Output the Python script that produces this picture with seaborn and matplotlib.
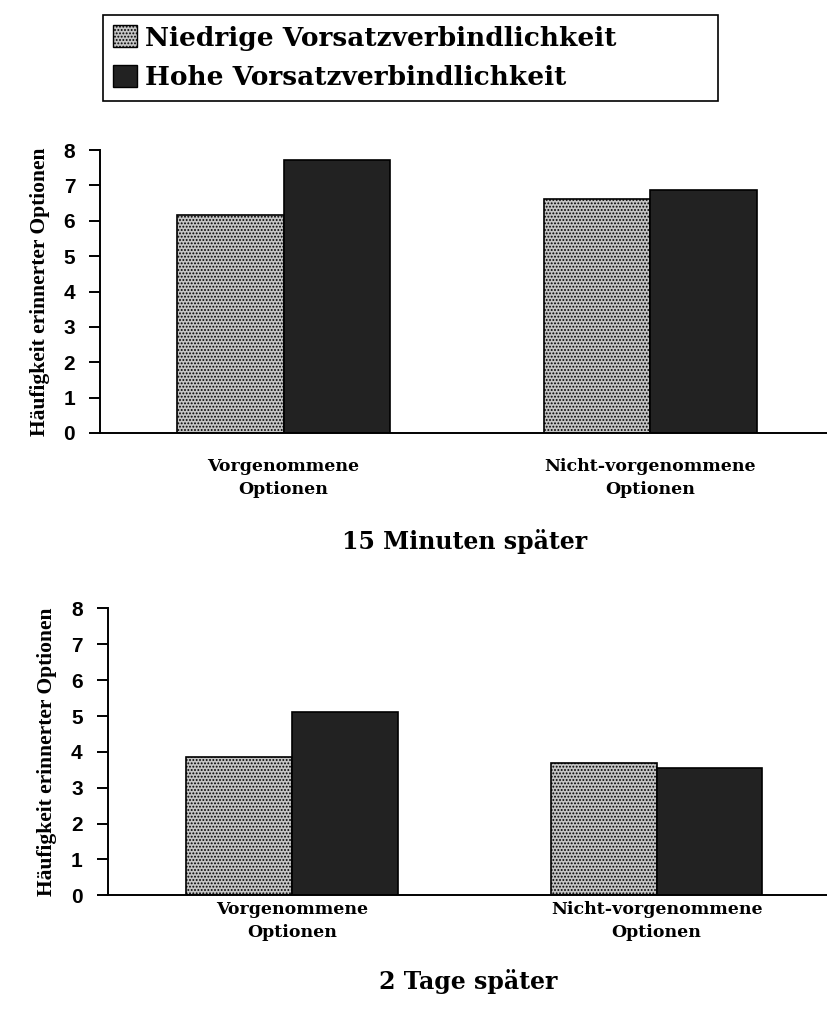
import pandas as pd
import matplotlib.pyplot as plt
import seaborn as sns
from matplotlib.patches import Patch

sns.set_style('white')
plt.rcParams['hatch.linewidth'] = 0.9
plt.rcParams['text.color'] = 'black'
plt.rcParams['axes.labelcolor'] = 'black'
plt.rcParams['xtick.color'] = 'black'
plt.rcParams['ytick.color'] = 'black'

# Data
optionen = ['Vorgenommene\nOptionen', 'Nicht-vorgenommene\nOptionen']
gruppen = ['Niedrige Vorsatzverbindlichkeit', 'Hohe Vorsatzverbindlichkeit']
werte_15min = {'Niedrige Vorsatzverbindlichkeit': [6.15, 6.62],
               'Hohe Vorsatzverbindlichkeit': [7.72, 6.86]}
werte_2tage = {'Niedrige Vorsatzverbindlichkeit': [3.85, 3.68],
               'Hohe Vorsatzverbindlichkeit': [5.1, 3.54]}
titel = ['15 Minuten später', '2 Tage später']
y_ticks = [0, 1, 2, 3, 4, 5, 6, 7, 8]
ylabel = 'Häufigkeit erinnerter Optionen'

LIGHT = '#c4c4c4'
DARK = '#222222'
SERIF = 'DejaVu Serif'


def make_df(werte):
    rows = []
    for g in gruppen:
        for opt, v in zip(optionen, werte[g]):
            rows.append({'Option': opt, 'Gruppe': g, 'Wert': v})
    return pd.DataFrame(rows)


fig = plt.figure(figsize=(8.28, 10.14), dpi=100)
ax1 = fig.add_axes([0.121, 0.573, 0.879, 0.279])
ax2 = fig.add_axes([0.130, 0.117, 0.870, 0.283])

# (axes, data, title, xlim, tick pad, title pad)
panels = [(ax1, werte_15min, titel[0], (-0.5, 1.485), 18, 22),
          (ax2, werte_2tage, titel[1], (-0.505, 1.47), 4, 20)]

for ax, werte, t, xlim, tpad, lpad in panels:
    df = make_df(werte)
    sns.barplot(data=df, x='Option', y='Wert', hue='Gruppe', hue_order=gruppen,
                palette=[LIGHT, DARK], width=0.58, edgecolor='black',
                linewidth=1.2, saturation=1, ax=ax, legend=False)
    for p in ax.containers[0]:
        p.set_hatch('.....')
    ax.set_xlim(*xlim)
    ax.set_ylim(0, 8)
    ax.set_yticks(y_ticks)
    ax.set_yticklabels([str(v) for v in y_ticks], family='Liberation Sans',
                       fontweight='bold', fontsize=15)
    ax.set_xticklabels(optionen, family=SERIF, fontweight='bold', fontsize=12.5,
                       linespacing=1.5)
    ax.tick_params(axis='y', direction='out', length=8, width=1.4, pad=10, left=True)
    ax.tick_params(axis='x', length=0, pad=tpad)
    ax.set_ylabel(ylabel, family='Liberation Serif', fontweight='bold',
                  fontsize=15.5, labelpad=10)
    ax.set_xlabel(t, family=SERIF, fontweight='bold', fontsize=17, labelpad=lpad)
    sns.despine(ax=ax)
    for s in ('left', 'bottom'):
        ax.spines[s].set_linewidth(1.4)
        ax.spines[s].set_color('black')

handles = [Patch(facecolor=LIGHT, edgecolor='black', hatch='.....', label=gruppen[0]),
           Patch(facecolor=DARK, edgecolor='black', label=gruppen[1])]
leg = fig.legend(handles=handles, loc='center', mode='expand',
                 bbox_to_anchor=(0.124, 0.898, 0.743, 0.090),
                 handlelength=0.9, handleheight=0.9, handletextpad=0.3,
                 borderpad=0.4, borderaxespad=0, labelspacing=0.55,
                 fancybox=False, edgecolor='black', framealpha=1,
                 prop={'family': SERIF, 'weight': 'bold', 'size': 19})
leg.get_frame().set_linewidth(1.2)

plt.savefig('out.png', dpi=100)
